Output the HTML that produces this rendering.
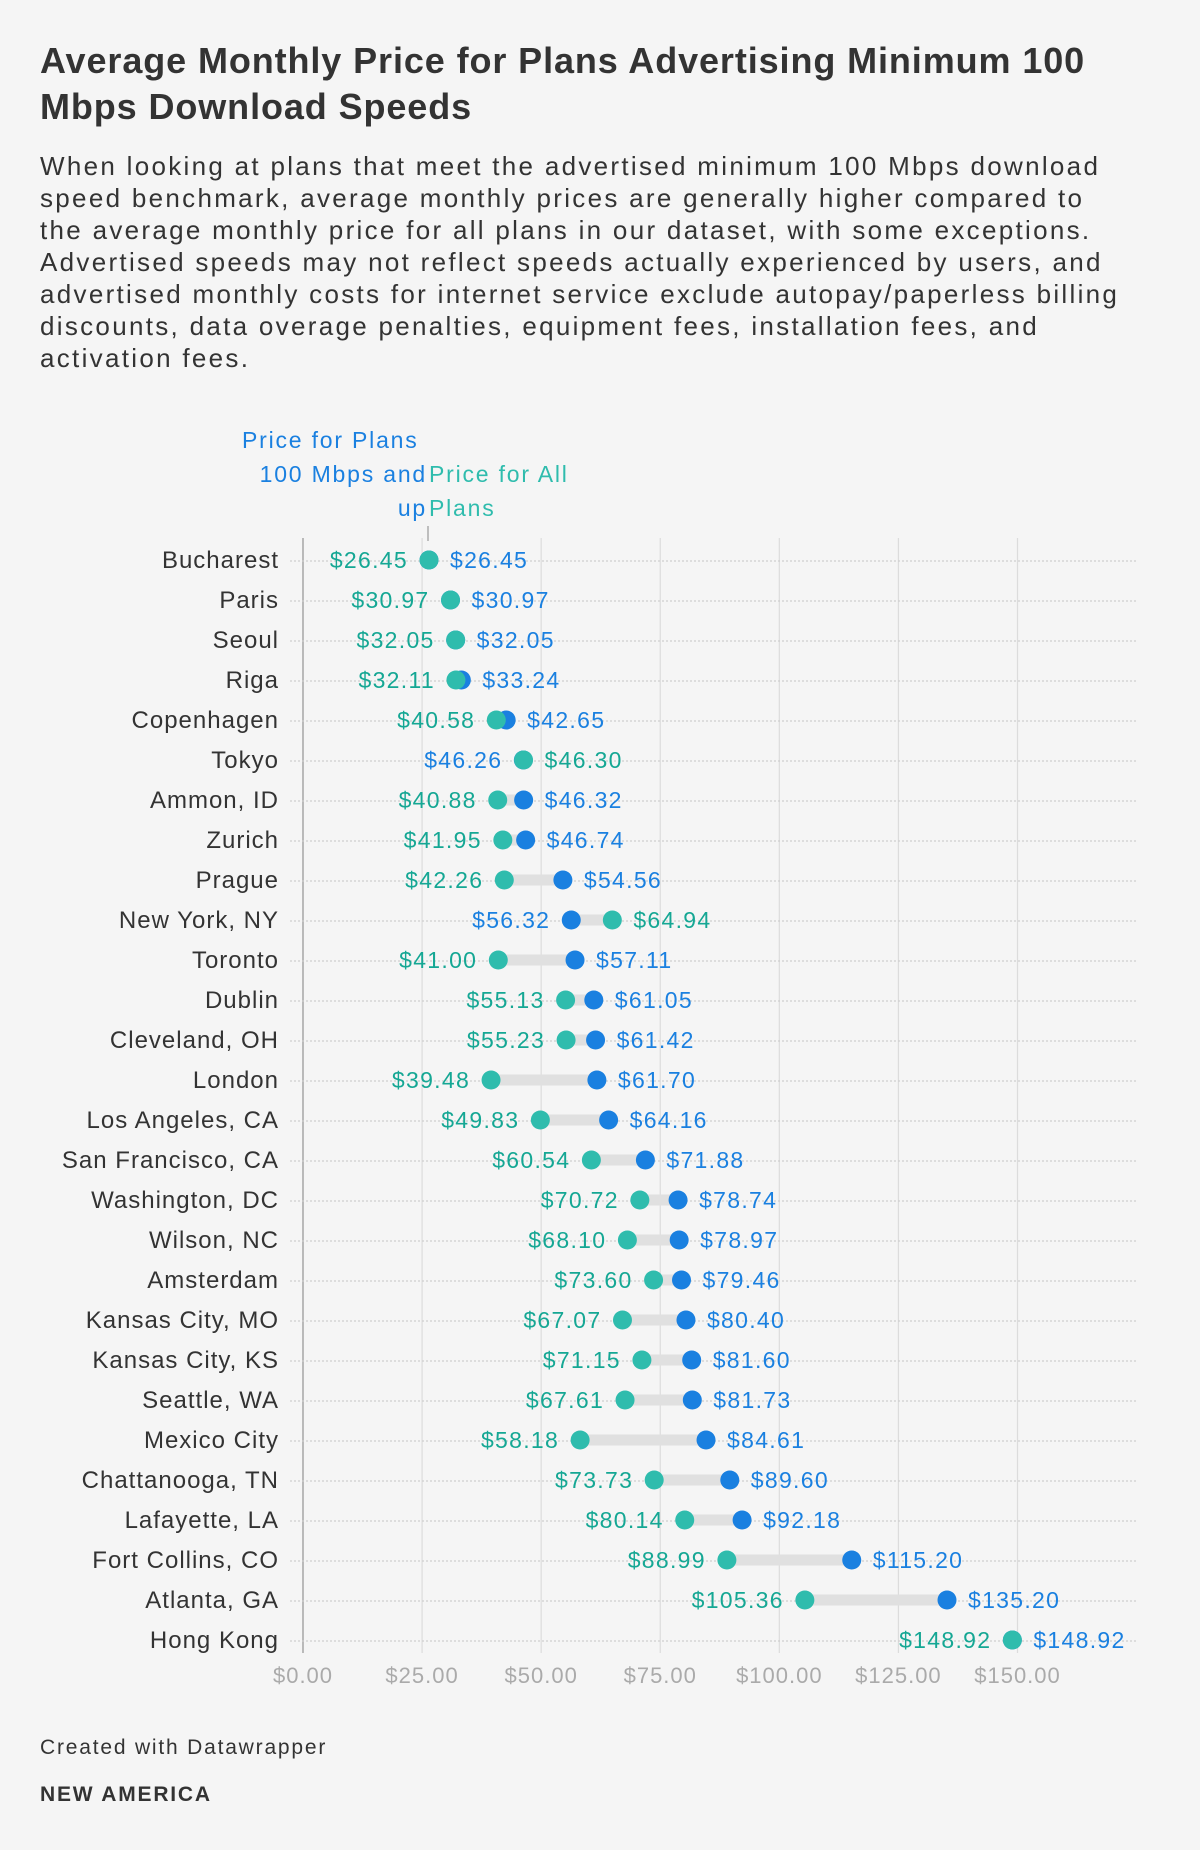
<!DOCTYPE html>
<html><head><meta charset="utf-8">
<style>
body{margin:0;background:#f5f5f5;width:1200px;height:1850px;overflow:hidden;font-family:"Liberation Sans",sans-serif;color:#333}
#title{position:absolute;left:40px;top:38px;font-size:36px;font-weight:bold;line-height:46px;letter-spacing:0.9px;margin:0;width:1160px}
#desc{position:absolute;left:40px;top:150px;font-size:26px;line-height:32px;margin:0;width:1160px;letter-spacing:2.3px}
#foot1{position:absolute;left:40px;top:1736px;font-size:21px;letter-spacing:1.8px}
#foot2{position:absolute;left:40px;top:1783px;font-size:21px;font-weight:bold;letter-spacing:1.8px}
svg{position:absolute;left:0;top:0}
</style></head><body>
<h1 id="title">Average Monthly Price for Plans Advertising Minimum 100<br>Mbps Download Speeds</h1>
<p id="desc">When looking at plans that meet the advertised minimum 100 Mbps download<br>speed benchmark, average monthly prices are generally higher compared to<br>the average monthly price for all plans in our dataset, with some exceptions.<br>Advertised speeds may not reflect speeds actually experienced by users, and<br>advertised monthly costs for internet service exclude autopay/paperless billing<br>discounts, data overage penalties, equipment fees, installation fees, and<br>activation fees.</p>
<div id="foot1">Created with Datawrapper</div>
<div id="foot2">NEW AMERICA</div>
<svg id="chart" width="1200" height="1850"></svg>
<script>
const cities=["Bucharest","Paris","Seoul","Riga","Copenhagen","Tokyo","Ammon, ID","Zurich","Prague","New York, NY","Toronto","Dublin","Cleveland, OH","London","Los Angeles, CA","San Francisco, CA","Washington, DC","Wilson, NC","Amsterdam","Kansas City, MO","Kansas City, KS","Seattle, WA","Mexico City","Chattanooga, TN","Lafayette, LA","Fort Collins, CO","Atlanta, GA","Hong Kong"];
const allPlans=[26.45,30.97,32.05,32.11,40.58,46.30,40.88,41.95,42.26,64.94,41.00,55.13,55.23,39.48,49.83,60.54,70.72,68.10,73.60,67.07,71.15,67.61,58.18,73.73,80.14,88.99,105.36,148.92];
const plans100=[26.45,30.97,32.05,33.24,42.65,46.26,46.32,46.74,54.56,56.32,57.11,61.05,61.42,61.70,64.16,71.88,78.74,78.97,79.46,80.40,81.60,81.73,84.61,89.60,92.18,115.20,135.20,148.92];
const ticks=[0,25,50,75,100,125,150];
const BLUE="#1a80e0",TEAL="#2fbcad",TEALT="#15a794";
const x=v=>303+v*(714.5/150);
const y=i=>557+i*40;
const svg=document.getElementById('chart');
const NS="http://www.w3.org/2000/svg";
function mk(tag,attrs,txt){const e=document.createElementNS(NS,tag);for(const k in attrs)e.setAttribute(k,attrs[k]);if(txt!=null)e.textContent=txt;svg.appendChild(e);return e;}
const fmt=v=>"$"+v.toFixed(2);
ticks.forEach(t=>{
 const g=mk('line',{x1:x(t),x2:x(t),y1:538,y2:1653,stroke:t===0?'#999':'#dcdcdc','stroke-width':t===0?1.3:1.2});
 
 
 const l=mk('text',{x:x(t),y:1683,'text-anchor':'middle','font-size':22,'letter-spacing':1,fill:'#aaa'},fmt(t));
 
 
});
cities.forEach((c,i)=>{
 const yy=y(i);
 const dl=mk('line',{x1:290,x2:1138,y1:yy+4,y2:yy+4,stroke:'#cfcfcf','stroke-width':1.3,'stroke-dasharray':'2,2'});
 
 
 const lab=mk('text',{x:279,y:yy+11,'text-anchor':'end','font-size':24,'letter-spacing':1,fill:'#333'},c);
 
 
 const a=allPlans[i],b=plans100[i];
 const bar=mk('line',{x1:x(Math.min(a,b)),x2:x(Math.max(a,b)),y1:yy+3,y2:yy+3,stroke:'#e0e0e0','stroke-width':11});
 
 
 const db=mk('circle',{cx:x(b),cy:yy+3,r:9.5,fill:BLUE});
 
 
 const da=mk('circle',{cx:x(a),cy:yy+3,r:9.5,fill:TEAL});
 
 
 const tealLeft=a<=b;
 const left=tealLeft?a:b,right=tealLeft?b:a;
 const l1=mk('text',{x:x(left)-21,y:yy+11,'text-anchor':'end','font-size':23,'letter-spacing':1.3,fill:tealLeft?TEALT:BLUE},fmt(left));
 
 
 const l2=mk('text',{x:x(right)+21,y:yy+11,'text-anchor':'start','font-size':23,'letter-spacing':1.3,fill:tealLeft?BLUE:TEALT},fmt(right));
 
 
});
const lg=[["Price for Plans",242,448,BLUE,'start'],["100 Mbps and",427,482,BLUE,'end'],["up",427,516,BLUE,'end'],["Price for All",429,482,TEAL,'start'],["Plans",429,516,TEAL,'start']];
lg.forEach(d=>{
 const t=mk('text',{x:d[1],y:d[2],'text-anchor':d[4],'font-size':23,'letter-spacing':1.8,fill:d[3]},d[0]);
 
 
});
const tk=mk('line',{x1:428,x2:428,y1:526,y2:541,stroke:'#999','stroke-width':1.2});


</script>
</body></html>
